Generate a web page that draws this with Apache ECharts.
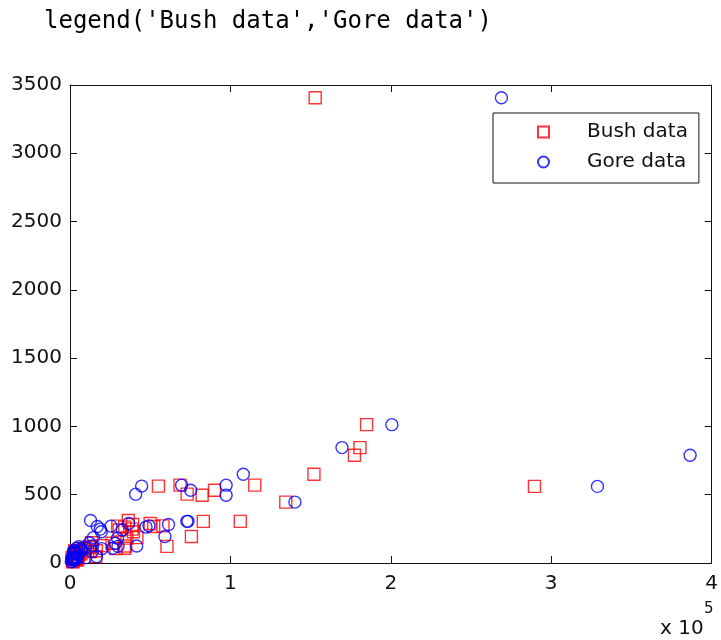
<!DOCTYPE html>
<html>
<head>
<meta charset="utf-8">
<script src="https://cdn.jsdelivr.net/npm/echarts@6/dist/echarts.min.js"></script>
<style>
  html, body { margin: 0; padding: 0; background: #fff; }
  #chart { width: 721px; height: 640px; }
</style>
</head>
<body>
<div id="chart"></div>
<script>
// Florida 2000 presidential vote by county: Bush and Gore totals against Buchanan totals
const counties = ['Alachua','Baker','Bay','Bradford','Brevard','Broward','Calhoun','Charlotte','Citrus','Clay',
  'Collier','Columbia','Dade','De Soto','Dixie','Duval','Escambia','Flagler','Franklin','Gadsden',
  'Gilchrist','Glades','Gulf','Hamilton','Hardee','Hendry','Hernando','Highlands','Hillsborough','Holmes',
  'Indian River','Jackson','Jefferson','Lafayette','Lake','Lee','Leon','Levy','Liberty','Madison',
  'Manatee','Marion','Martin','Monroe','Nassau','Okaloosa','Okeechobee','Orange','Osceola','Palm Beach',
  'Pasco','Pinellas','Polk','Putnam','St. Johns','St. Lucie','Santa Rosa','Sarasota','Seminole','Sumter',
  'Suwannee','Taylor','Union','Volusia','Wakulla','Walton','Washington'];

const bushVotes = [34124,5610,38637,5414,115185,177323,2873,35426,29767,41736,
  60450,10964,289533,4256,2698,152082,73017,12613,2454,4767,
  3300,1841,3550,2146,3765,4747,30646,20206,180760,5011,
  28635,9138,2481,1669,49963,106141,39053,6858,1317,3038,
  57948,55135,33972,16059,16404,52186,5057,134517,26212,152846,
  68582,184884,90101,13439,39497,34705,36339,83100,75677,12127,
  8006,4051,2326,82368,4512,12182,4994];

const goreVotes = [47365,2392,18850,3075,97318,386561,2155,29645,25525,14632,
  29921,7047,328808,3320,1826,108039,40943,13897,2046,9735,
  1910,1442,2397,1722,2339,3240,32644,14167,169557,2177,
  19768,6868,3041,789,36571,73560,61425,5398,1017,3014,
  49226,44674,26621,16483,6955,16989,4588,140220,28181,268945,
  69576,200657,75207,12107,19509,41560,12818,72853,59174,9637,
  4075,2649,1407,97304,3838,5642,2798];

const buchananVotes = [263,73,248,65,570,789,90,182,270,186,
  122,89,561,36,29,650,504,83,33,39,
  29,9,71,24,30,22,242,127,845,76,
  105,102,29,10,289,305,282,67,39,29,
  272,563,108,47,90,267,43,446,145,3407,
  570,1013,533,148,229,124,311,305,194,114,
  108,27,37,496,46,120,88];

const xTicks = [0, 100000, 200000, 300000, 400000];
const yTicks = [0, 500, 1000, 1500, 2000, 2500, 3000, 3500];

const seriesNames = ['Bush data', 'Gore data'];

const FONT = 'DejaVu Sans';
const INK = '#111';

const bushPoints = bushVotes.map((v, i) => [v, buchananVotes[i]]);
const gorePoints = goreVotes.map((v, i) => [v, buchananVotes[i]]);

function valueAxis(pos, ticks, showLabels, fmt) {
  return {
    type: 'value',
    position: pos,
    min: ticks[0],
    max: ticks[ticks.length - 1],
    interval: ticks[1] - ticks[0],
    axisLine: { show: true, onZero: false, lineStyle: { color: INK, width: 1 } },
    axisTick: { show: true, inside: true, length: 7, lineStyle: { color: INK, width: 1 } },
    axisLabel: {
      show: showLabels,
      color: INK,
      fontFamily: FONT,
      fontSize: 20,
      margin: pos === 'bottom' ? 11 : 8,
      formatter: fmt
    },
    splitLine: { show: false }
  };
}

const chart = echarts.init(document.getElementById('chart'), null, { renderer: 'canvas' });

chart.setOption({
  animation: false,
  backgroundColor: '#fff',
  grid: { left: 70, right: 8, top: 85, bottom: 77, containLabel: false },
  xAxis: [
    valueAxis('bottom', xTicks, true, v => String(v / 100000)),
    valueAxis('top', xTicks, false)
  ],
  yAxis: [
    valueAxis('left', yTicks, true, v => String(v)),
    valueAxis('right', yTicks, false)
  ],
  legend: {
    orient: 'vertical',
    left: 493,
    top: 113,
    padding: [9, 11, 11, 44],
    itemGap: 10,
    itemWidth: 11,
    itemHeight: 11,
    backgroundColor: '#fff',
    borderColor: INK,
    borderWidth: 1,
    borderRadius: 0,
    textStyle: { color: INK, fontFamily: FONT, fontSize: 20, padding: [0, 0, 0, 33] },
    data: seriesNames
  },
  series: [
    {
      name: seriesNames[0],
      type: 'scatter',
      xAxisIndex: 0,
      yAxisIndex: 0,
      clip: false,
      symbol: 'rect',
      symbolSize: 12,
      itemStyle: { color: 'transparent', borderColor: '#ff0000', borderWidth: 1.4 },
      emphasis: { disabled: true },
      data: bushPoints
    },
    {
      name: seriesNames[1],
      type: 'scatter',
      xAxisIndex: 0,
      yAxisIndex: 0,
      clip: false,
      symbol: 'circle',
      symbolSize: 12,
      itemStyle: { color: 'transparent', borderColor: '#0000ff', borderWidth: 1.4 },
      emphasis: { disabled: true },
      data: gorePoints
    }
  ],
  graphic: [
    {
      type: 'text',
      left: 44,
      top: 10,
      style: { text: "legend('Bush data','Gore data')", fill: '#000', font: '24px "DejaVu Sans Mono"' }
    },
    {
      type: 'text',
      left: 660,
      top: 619,
      style: { text: 'x 10', fill: INK, font: '20px "DejaVu Sans"' }
    },
    {
      type: 'text',
      left: 704,
      top: 602,
      style: { text: '5', fill: INK, font: '15px "DejaVu Sans"' }
    }
  ]
});
</script>
</body>
</html>
